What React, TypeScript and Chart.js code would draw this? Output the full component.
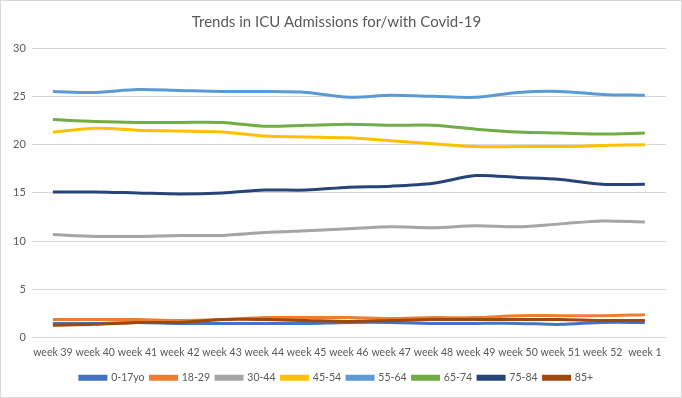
import React, { useEffect, useRef } from "react";
import { Chart, registerables } from "chart.js";

Chart.register(...registerables);

const weeks = ["week 39", "week 40", "week 41", "week 42", "week 43", "week 44", "week 45", "week 46", "week 47", "week 48", "week 49", "week 50", "week 51", "week 52", "week 1"];

const age0_17 = [1.5, 1.5, 1.6, 1.5, 1.5, 1.5, 1.5, 1.6, 1.6, 1.5, 1.5, 1.5, 1.4, 1.6, 1.6];
const age18_29 = [1.9, 1.9, 1.9, 1.8, 1.9, 2.1, 2.1, 2.1, 2.0, 2.1, 2.1, 2.3, 2.3, 2.3, 2.4];
const age30_44 = [10.7, 10.5, 10.5, 10.6, 10.6, 10.9, 11.1, 11.3, 11.5, 11.4, 11.6, 11.5, 11.8, 12.1, 12.0];
const age45_54 = [21.3, 21.7, 21.5, 21.4, 21.3, 20.9, 20.8, 20.7, 20.4, 20.1, 19.8, 19.8, 19.8, 19.9, 20.0];
const age55_64 = [25.5, 25.4, 25.7, 25.6, 25.5, 25.5, 25.4, 24.9, 25.1, 25.0, 24.9, 25.4, 25.5, 25.2, 25.1];
const age65_74 = [22.6, 22.4, 22.3, 22.3, 22.3, 21.9, 22.0, 22.1, 22.0, 22.0, 21.6, 21.3, 21.2, 21.1, 21.2];
const age75_84 = [15.1, 15.1, 15.0, 14.9, 15.0, 15.3, 15.3, 15.6, 15.7, 16.0, 16.8, 16.6, 16.4, 15.9, 15.9];
const age85plus = [1.3, 1.4, 1.6, 1.6, 1.9, 1.9, 1.8, 1.7, 1.8, 1.9, 1.9, 1.9, 1.9, 1.8, 1.8];

const seriesNames = ["0-17yo", "18-29", "30-44", "45-54", "55-64", "65-74", "75-84", "85+"];
const seriesValues = [age0_17, age18_29, age30_44, age45_54, age55_64, age65_74, age75_84, age85plus];
const seriesColors = ["#4472C4", "#ED7D31", "#A5A5A5", "#FFC000", "#5B9BD5", "#70AD47", "#264478", "#9E480E"];

const yTicks = [0, 5, 10, 15, 20, 25, 30];

export default function App() {
  const ref = useRef<HTMLCanvasElement | null>(null);

  useEffect(() => {
    document.body.style.margin = "0";
    const canvas = ref.current;
    if (!canvas) return;
    const font = "Lato, 'Open Sans', sans-serif";
    const chart = new Chart(canvas, {
      type: "line",
      data: {
        labels: weeks,
        datasets: seriesNames.map((name, i) => ({
          label: name,
          data: seriesValues[i],
          borderColor: seriesColors[i],
          backgroundColor: seriesColors[i],
          borderWidth: 3,
          pointRadius: 0,
          tension: 0.3,
          fill: false,
          order: seriesNames.length - i,
        })),
      },
      options: {
        animation: false,
        responsive: false,
        maintainAspectRatio: false,
        layout: { padding: { left: 6, right: 15, top: 4, bottom: 4 } },
        plugins: {
          title: {
            display: true,
            text: "Trends in ICU Admissions for/with Covid-19",
            color: "#595959",
            font: { family: font, size: 15, weight: "normal" },
            padding: { top: 8, bottom: 17 },
          },
          legend: {
            position: "bottom",
            labels: {
              color: "#595959",
              font: { family: font, size: 10.5 },
              boxWidth: 26,
              boxHeight: 3,
              padding: 6,
              sort: (a: any, b: any) => a.datasetIndex - b.datasetIndex,
            },
          },
          tooltip: { enabled: false },
        },
        scales: {
          x: {
            offset: true,
            grid: { display: false, drawTicks: false },
            border: { display: false },
            ticks: {
              color: "#595959",
              font: { family: font, size: 10.5 },
              maxRotation: 0,
              autoSkip: false,
              padding: 8,
            },
          },
          y: {
            min: 0,
            max: 30,
            afterBuildTicks: (axis: any) => {
              axis.ticks = yTicks.map((v) => ({ value: v }));
            },
            grid: { color: "#D9D9D9", drawTicks: false, lineWidth: 1 },
            border: { display: false },
            ticks: {
              color: "#595959",
              font: { family: font, size: 11 },
              padding: 6,
            },
          },
        },
      },
    });
    return () => chart.destroy();
  }, []);

  return (
    <div style={{ width: 682, height: 398, boxSizing: "border-box", border: "1px solid #D9D9D9", background: "#fff" }}>
      <canvas ref={ref} width={680} height={396} style={{ display: "block" }} />
    </div>
  );
}
